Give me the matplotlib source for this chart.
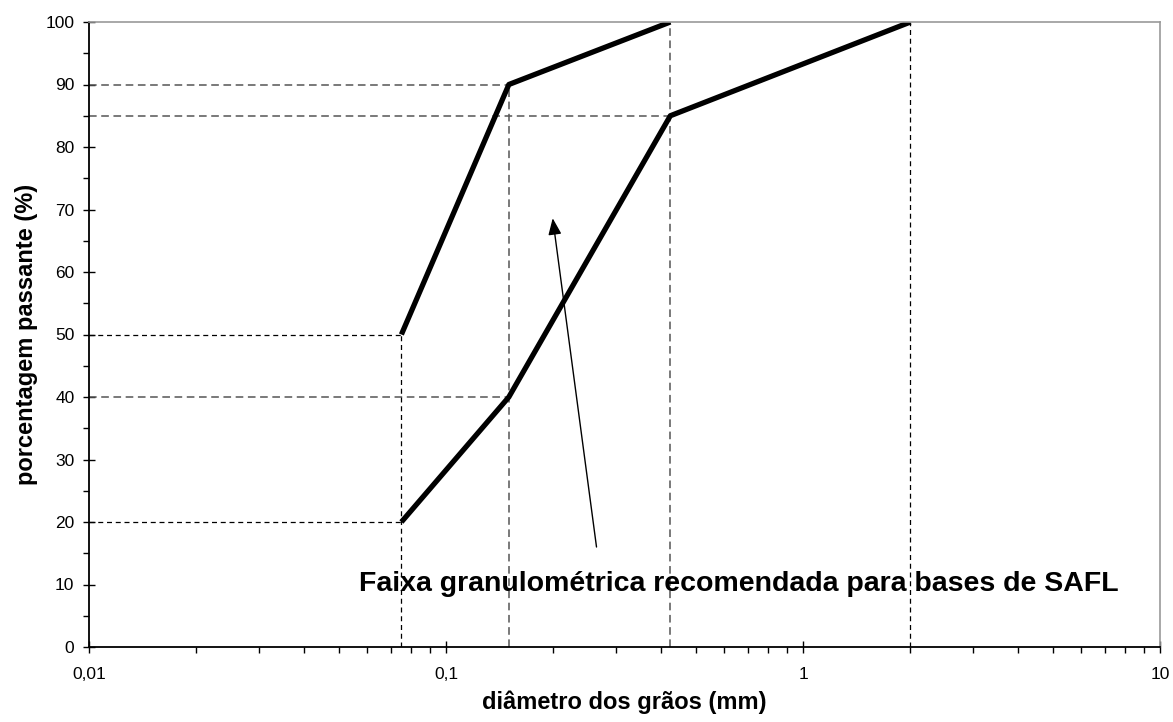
import matplotlib
matplotlib.use('Agg')
import matplotlib.pyplot as plt
from matplotlib.ticker import FixedLocator, LogLocator, MultipleLocator, FuncFormatter, NullFormatter

plt.rcParams['font.family'] = ['Liberation Sans', 'DejaVu Sans']

# faixa granulométrica: limite superior e inferior
diam_sup = [0.075, 0.15, 0.425]
pass_sup = [50, 90, 100]
diam_inf = [0.075, 0.15, 0.425, 2.0]
pass_inf = [20, 40, 85, 100]

# linhas de chamada (tracejadas)
guia_h_cinza = [(90, 0.15), (85, 0.425), (40, 0.15)]
guia_h_preta = [(50, 0.075), (20, 0.075)]
guia_v_cinza = [(0.15, 90), (0.425, 100)]
guia_v_preta = [(0.075, 50), (2.0, 100)]

x_ticks = [0.01, 0.1, 1, 10]
x_labels = ['0,01', '0,1', '1', '10']

fig = plt.figure(figsize=(11.73, 7.22), dpi=100)
ax = fig.add_axes([89 / 1173, 1 - 647 / 722, (1160 - 89) / 1173, (647 - 22) / 722])

for y, x in guia_h_cinza:
    ax.plot([0.01, x], [y, y], color='#555555', lw=1.1, dashes=(5, 3))
for y, x in guia_h_preta:
    ax.plot([0.01, x], [y, y], color='black', lw=0.9, dashes=(4, 3))
for x, y in guia_v_cinza:
    ax.plot([x, x], [0, y], color='#555555', lw=1.1, dashes=(5, 3))
for x, y in guia_v_preta:
    ax.plot([x, x], [0, y], color='black', lw=0.9, dashes=(4, 3))

ax.plot(diam_sup, pass_sup, color='black', lw=3.8, solid_capstyle='butt')
ax.plot(diam_inf, pass_inf, color='black', lw=3.8, solid_capstyle='butt')

ax.annotate('', xy=(0.199, 68.6), xytext=(0.264, 16),
            arrowprops=dict(arrowstyle='-|>,head_length=1.0,head_width=0.4',
                            color='black', lw=1.0, shrinkA=0, shrinkB=0))
ax.text(0.0572, 10.1, 'Faixa granulométrica recomendada para bases de SAFL',
        fontsize=20.5, fontweight='bold', va='center', ha='left')

ax.set_xscale('log')
ax.set_xlim(0.01, 10)
ax.set_ylim(0, 100)

ax.xaxis.set_major_locator(FixedLocator(x_ticks))
ax.xaxis.set_major_formatter(FuncFormatter(lambda v, p: x_labels[x_ticks.index(v)] if v in x_ticks else ''))
ax.xaxis.set_minor_locator(LogLocator(base=10, subs=range(2, 10)))
ax.xaxis.set_minor_formatter(NullFormatter())
ax.yaxis.set_major_locator(MultipleLocator(10))
ax.yaxis.set_minor_locator(MultipleLocator(5))

ax.tick_params(which='major', direction='inout', length=9, width=1, labelsize=12.5)
ax.tick_params(which='minor', direction='out', length=4, width=1)
ax.tick_params(axis='y', which='major', pad=6)
ax.tick_params(axis='x', which='major', pad=10)

for s in ['top', 'right']:
    ax.spines[s].set_color('#999999')
    ax.spines[s].set_linewidth(1.2)
for s in ['left', 'bottom']:
    ax.spines[s].set_linewidth(1.3)

ax.set_xlabel('diâmetro dos grãos (mm)', fontsize=17, fontweight='bold', labelpad=6)
ax.set_ylabel('porcentagem passante (%)', fontsize=17, fontweight='bold', labelpad=5)

fig.savefig('out.png', dpi=100)
